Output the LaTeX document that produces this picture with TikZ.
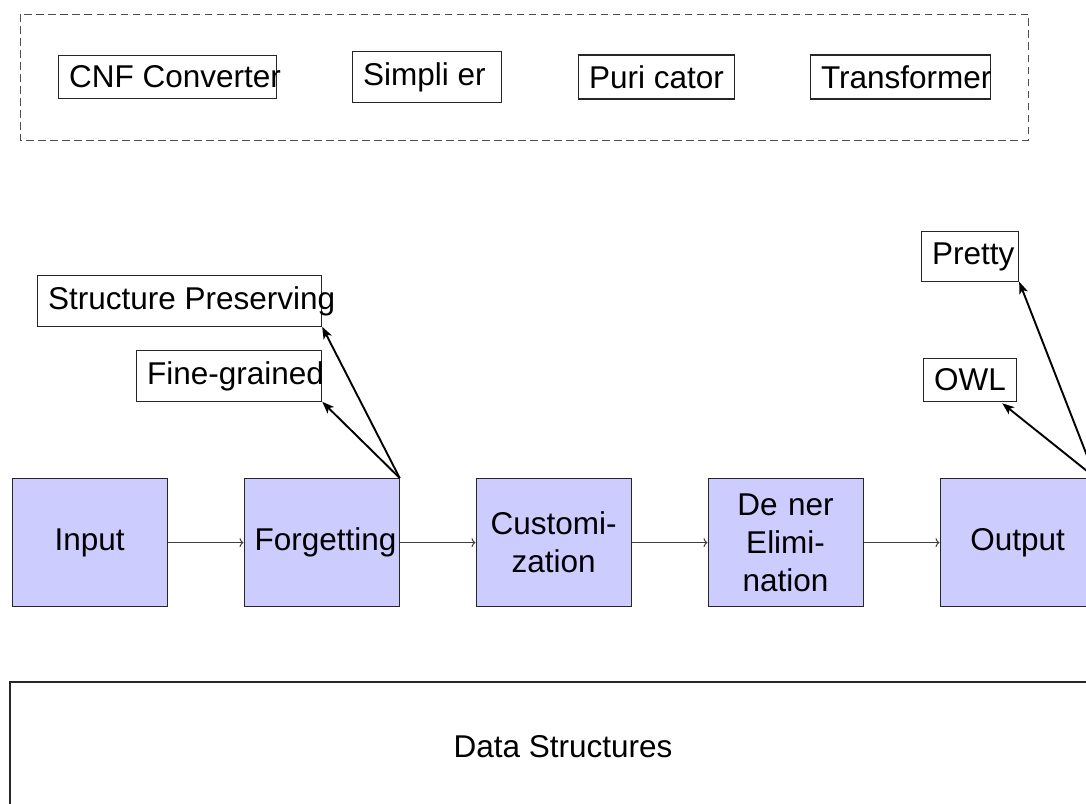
\documentclass[tikz,border=0pt]{standalone}
\usepackage{fontspec}
\setmainfont{Liberation Sans}
\usetikzlibrary{arrows.meta}
\newcommand\labelsize{\fontsize{31.5}{37.8}\selectfont}
% fixed-width label content; long words run past the frame
\newcommand\fixw[2]{\makebox[#1][l]{#2}}
\begin{document}
\begin{tikzpicture}[x=1pt,y=-1pt,
  every node/.style={font=\labelsize},
  tool/.style={draw=black!85, line width=1.2pt, inner sep=10.5pt, anchor=west},
  stage/.style={draw=black!85, line width=1.2pt, fill=blue!20, minimum width=155pt,
    minimum height=128pt, text width=134pt, inner sep=10.5pt, align=center, anchor=north west},
  flow/.style={draw=black!75, line width=1pt, -{To[length=4pt,width=9pt]}},
  note/.style={draw=black, line width=1.9pt, -{Stealth[length=12pt,width=9pt,inset=3pt]}},
  group/.style={draw=black!70, line width=1pt, dash pattern=on 7.5pt off 4.5pt}
]
\useasboundingbox (0,0) rectangle (1086,803);
\clip (0,0) rectangle (1086,803);

% preprocessing tools
\draw[group] (20,14) rectangle (1028,140);
\node[tool] (cnf)   at (58,77)  {\fixw{197pt}{CNF Converter}};
\node[tool] (simp)  at (352,77) {\fixw{128pt}{Simpli er}};
\node[tool] (puri)  at (578,77) {\fixw{135pt}{Puri cator}};
\node[tool] (trans) at (810,77) {\fixw{159pt}{Transformer}};

% main pipeline
\node[stage] (input)  at (11.5,478)  {Input};
\node[stage] (forget) at (243.5,478) {Forgetting};
\node[stage] (custom) at (475.5,478) {Customi-\\zation};
\node[stage] (defel)  at (707.5,478) {De ner\\Elimi-\\nation};
\node[stage] (output) at (939.5,478) {Output};

\draw[flow] (input)  -- (forget);
\draw[flow] (forget) -- (custom);
\draw[flow] (custom) -- (defel);
\draw[flow] (defel)  -- (output);

% forgetting variants
\node[tool] (struct) at (37,301)  {\fixw{263pt}{Structure Preserving}};
\node[tool] (fine)   at (136,376) {\fixw{164pt}{Fine-grained}};
\draw[note] (forget.north east) -- (struct.south east);
\draw[note] (forget.north east) -- (fine.south east);

% output formats
\node[tool] (pretty) at (921,256.5) {\fixw{76pt}{Pretty}};
\node[tool] (owl)    at (923,380)   {\fixw{72pt}{OWL}};
\coordinate (owltip) at ([xshift=-15pt,yshift=-1pt]owl.south east);
\draw[note] (output.north east) -- (pretty.south east);
\draw[note] (output.north east) -- (owltip);

% shared data structures
\node[draw=black!85, line width=1.2pt, minimum width=1106pt, minimum height=130pt] (data) at (563,747) {Data Structures};
\end{tikzpicture}
\end{document}
